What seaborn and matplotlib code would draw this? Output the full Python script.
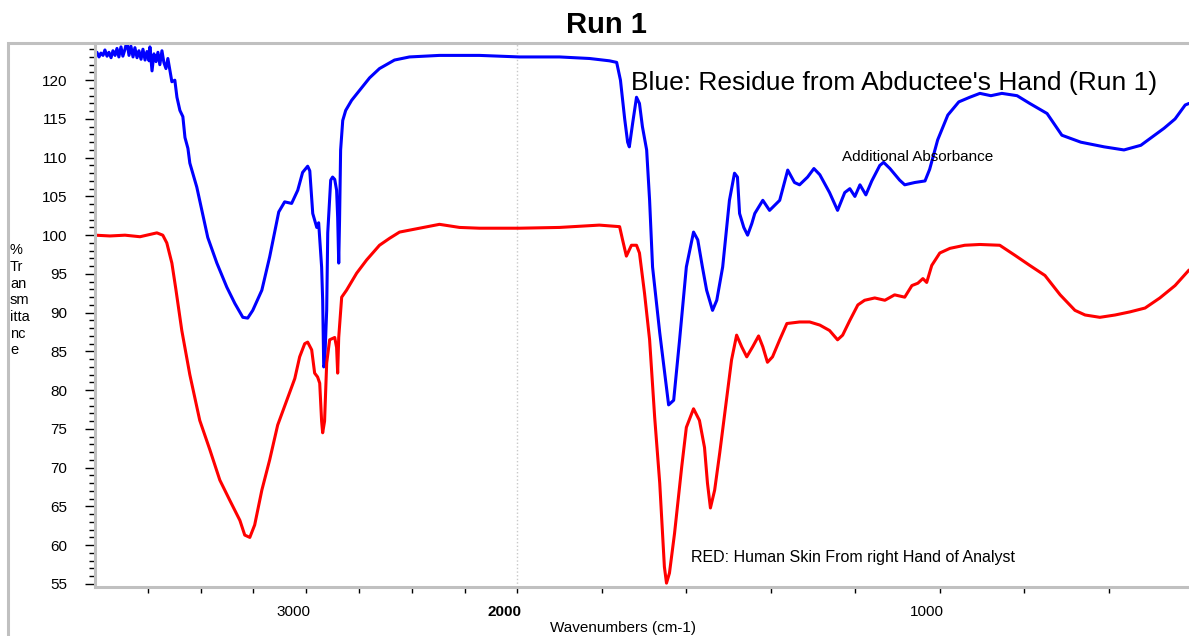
import numpy as np
import pandas as pd
import matplotlib
matplotlib.use("Agg")
import matplotlib.pyplot as plt
import seaborn as sns
from matplotlib.ticker import FixedLocator, FixedFormatter, MultipleLocator
from matplotlib.patches import Rectangle
from matplotlib.transforms import ScaledTranslation

# Blue run: residue from abductee's hand (wavenumber cm-1, %T)
blue_wavenumber = [4000, 3991, 3981, 3972, 3962, 3953, 3943, 3934, 3924, 3915, 3905, 3896,
                   3887, 3877, 3868, 3858, 3849, 3839, 3830, 3820, 3811, 3801, 3792, 3782,
                   3773, 3763, 3754, 3744, 3740, 3730, 3721, 3711, 3702, 3693, 3683, 3674,
                   3664, 3655, 3645, 3636,
                   3622, 3612, 3598, 3584, 3574, 3560, 3551, 3518, 3494, 3466, 3423,
                   3376, 3338, 3300, 3277, 3253, 3210, 3173, 3130, 3102, 3069, 3040, 3017,
                   2993, 2983, 2969, 2950, 2941, 2927, 2922, 2917, 2913, 2903, 2898, 2884,
                   2875, 2865, 2856, 2851, 2846, 2842, 2837, 2827, 2813, 2785, 2747, 2700,
                   2653, 2582, 2511, 2369, 2180, 1995, 1900, 1829, 1782, 1765, 1756, 1746,
                   1739, 1735, 1727, 1718, 1711, 1704, 1694, 1687, 1680, 1663, 1647, 1642,
                   1630, 1616, 1600, 1583, 1573, 1562, 1552, 1538, 1528, 1514, 1502, 1498,
                   1486, 1479, 1474, 1464, 1455, 1445, 1438, 1419, 1403, 1379, 1360, 1344,
                   1332, 1313, 1298, 1284, 1261, 1242, 1225, 1213, 1201, 1189, 1175, 1161,
                   1142, 1133, 1118, 1095, 1083, 1059, 1035, 1024, 1005, 981, 955, 929,
                   905, 879, 853, 817, 787, 746, 711, 666, 611, 564, 524, 469, 443, 419, 410]
blue_transmittance = [123.3, 123.6, 123.0, 123.5, 123.2, 123.9, 123.1, 123.6, 122.9, 123.8, 123.2, 124.1,
                      123.0, 124.3, 123.1, 124.0, 125.0, 123.2, 124.4, 123.0, 124.2, 122.9, 123.8, 122.7,
                      124.0, 122.6, 123.7, 122.5, 124.3, 121.2, 123.4, 122.4, 123.6, 122.0, 123.8, 122.3,
                      121.5, 122.8, 121.2, 119.8,
                      120.0, 117.8, 116.1, 115.3, 112.6, 111.2, 109.3, 106.2, 103.2, 99.7, 96.4,
                      93.3, 91.2, 89.4, 89.3, 90.3, 92.9, 97.2, 103.0, 104.3, 104.1, 105.8, 108.1,
                      108.9, 108.3, 102.8, 101.0, 101.6, 95.9, 91.6, 83.0, 83.2, 90.3, 100.3, 107.1,
                      107.5, 107.2, 105.8, 102.3, 96.4, 102.0, 111.0, 114.8, 116.1, 117.4, 118.7, 120.3,
                      121.5, 122.6, 123.0, 123.2, 123.2, 123.0, 123.0, 122.8, 122.5, 122.3, 120.0, 115.0,
                      112.0, 111.4, 114.5, 117.8, 117.0, 114.0, 111.0, 104.5, 95.9, 87.4, 80.4, 78.1,
                      78.7, 86.5, 95.9, 100.4, 99.4, 95.9, 92.9, 90.3, 91.6, 95.9, 102.3, 104.5,
                      108.0, 107.5, 102.8, 101.0, 100.0, 101.5, 102.8, 104.5, 103.2, 104.5, 108.4, 106.8,
                      106.5, 107.5, 108.6, 107.8, 105.5, 103.2, 105.5, 106.0, 105.0, 106.5, 105.2, 107.0,
                      109.0, 109.4, 108.6, 107.1, 106.5, 106.8, 107.0, 108.5, 112.3, 115.5, 117.2, 117.8,
                      118.3, 118.0, 118.3, 118.0, 117.0, 115.7, 112.9, 112.0, 111.4, 111.0, 111.6, 113.8,
                      115.0, 116.8, 117.0]

# Red run: human skin from right hand of analyst
red_wavenumber = [4000, 3929, 3858, 3787, 3740, 3707, 3679, 3660, 3636, 3617, 3598, 3589,
                  3551, 3504, 3456, 3409, 3362, 3314, 3291, 3267, 3244, 3210, 3173, 3135,
                  3092, 3054, 3031, 3007, 2993, 2974, 2960, 2946, 2936, 2927, 2922, 2913,
                  2903, 2889, 2865, 2856, 2851, 2846, 2832, 2809, 2761, 2714, 2653, 2605,
                  2558, 2463, 2369, 2274, 2180, 2085, 1995, 1900, 1806, 1758, 1751, 1742,
                  1730, 1718, 1711, 1699, 1687, 1675, 1663, 1652, 1647, 1640, 1628, 1611,
                  1600, 1583, 1569, 1557, 1550, 1543, 1533, 1521, 1505, 1493, 1481, 1469,
                  1457, 1443, 1429, 1419, 1408, 1396, 1379, 1362, 1332, 1308, 1284, 1261,
                  1242, 1230, 1213, 1194, 1178, 1154, 1130, 1107, 1083, 1066, 1052, 1040,
                  1031, 1019, 1000, 976, 941, 905, 858, 822, 787, 751, 715, 680,
                  656, 621, 585, 550, 514, 479, 443, 410]
red_transmittance = [100.0, 99.9, 100.0, 99.8, 100.1, 100.3, 100.0, 99.0, 96.4, 93.0, 89.4, 87.7,
                     82.0, 76.1, 72.3, 68.4, 65.8, 63.2, 61.3, 61.0, 62.6, 67.1, 71.0, 75.5,
                     78.7, 81.5, 84.3, 86.0, 86.2, 85.2, 82.2, 81.7, 80.9, 76.0, 74.5, 76.0,
                     83.5, 86.5, 86.8, 85.5, 82.2, 86.8, 92.0, 92.9, 95.1, 96.8, 98.7, 99.6,
                     100.4, 100.9, 101.4, 101.0, 100.9, 100.9, 100.9, 101.0, 101.3, 101.1, 99.4, 97.3,
                     98.7, 98.7, 97.7, 92.5, 86.5, 76.5, 68.0, 57.2, 55.1, 56.4, 61.5, 70.1,
                     75.2, 77.6, 76.1, 72.6, 68.0, 64.8, 67.1, 71.9, 78.7, 83.9, 87.1, 85.6,
                     84.3, 85.6, 87.0, 85.6, 83.6, 84.3, 86.5, 88.6, 88.8, 88.8, 88.4, 87.7,
                     86.5, 87.1, 89.0, 91.0, 91.6, 91.9, 91.6, 92.3, 92.0, 93.5, 93.8, 94.4,
                     93.9, 96.1, 97.7, 98.3, 98.7, 98.8, 98.7, 97.4, 96.1, 94.8, 92.3, 90.3,
                     89.7, 89.4, 89.7, 90.1, 90.6, 91.9, 93.5, 95.5]

tick_positions = [3750, 3500, 3250, 3000, 2750, 2500, 2250, 2000,
                  1800, 1600, 1400, 1200, 1000, 800, 600]
tick_labels = ["", "", "", "3000", "", "", "", "2000",
               "", "", "", "", "1000", "", ""]


# x axis is expanded 2x below 2000 cm-1, like the spectrometer software
def fwd(w):
    w = np.asarray(w, dtype=float)
    return np.where(w >= 2000, w, 2 * w - 2000)


def inv(u):
    u = np.asarray(u, dtype=float)
    return np.where(u >= 2000, u, (u + 2000) / 2)


sns.set_style("ticks")
plt.rcParams['font.family'] = ['Liberation Sans', 'DejaVu Sans']
plt.rcParams['text.color'] = "black"
plt.rcParams['xtick.color'] = "black"
plt.rcParams['ytick.color'] = "black"
plt.rcParams['axes.labelcolor'] = "black"

fig = plt.figure(figsize=(11.89, 6.36), dpi=100)
ax = fig.add_axes([95 / 1189, 49 / 636, 1 - 95 / 1189, 544 / 636])

blue_df = pd.DataFrame({"wn": blue_wavenumber, "T": blue_transmittance})
red_df = pd.DataFrame({"wn": red_wavenumber, "T": red_transmittance})

sns.lineplot(data=blue_df, x="wn", y="T", ax=ax, color="#0000ff", linewidth=2.2,
             sort=False, estimator=None)
sns.lineplot(data=red_df, x="wn", y="T", ax=ax, color="#ff0000", linewidth=2.2,
             sort=False, estimator=None)

ax.set_xscale("function", functions=(fwd, inv))
ax.set_xlim(4000, 410)
ax.set_ylim(54.6, 124.8)

# dotted line at the scale change
ax.axvline(2000, color="#c8c8c8", linestyle=":", linewidth=1, zorder=0)

ax.xaxis.set_major_locator(FixedLocator(tick_positions))
ax.xaxis.set_major_formatter(FixedFormatter(tick_labels))
ax.xaxis.set_minor_locator(FixedLocator([]))
ax.yaxis.set_major_locator(MultipleLocator(5))
ax.yaxis.set_minor_locator(MultipleLocator(1))

ax.tick_params(axis="y", which="major", direction="out", length=7, width=1, pad=13,
               labelsize=11, color="black", labelcolor="black")
ax.tick_params(axis="y", which="minor", direction="out", length=4, width=1, color="black")
ax.tick_params(axis="x", which="major", direction="out", length=4, width=1, pad=9,
               labelsize=11, color="black", labelcolor="black")

# labels sit a bit left of their ticks in the original
offset = ScaledTranslation(-13 / 100, 0, fig.dpi_scale_trans)
for lab in ax.get_xticklabels():
    lab.set_transform(lab.get_transform() + offset)
    if lab.get_text() == "2000":
        lab.set_fontweight("bold")

for side in ["top", "right"]:
    ax.spines[side].set_visible(False)
for side in ["left", "bottom"]:
    ax.spines[side].set_color("#c0c0c0")
    ax.spines[side].set_linewidth(2.2)

ax.set_xlabel("")
ax.set_ylabel("")

# outer grey frame
fig.add_artist(Rectangle((8 / 1189, -0.05), 1.2, 1 - 43 / 636 + 0.05,
                         transform=fig.transFigure, fill=False,
                         edgecolor="#c0c0c0", linewidth=2.2))

fig.text(606 / 1189, 1 - 25 / 636, "Run 1", fontsize=21, fontweight="bold",
         ha="center", va="center")
fig.text(10 / 1189, 1 - 243 / 636, "%\nTr\nan\nsm\nitta\nnc\ne", fontsize=10.5,
         ha="left", va="top", linespacing=1.25)
fig.text(623 / 1189, 1 - 628 / 636, "Wavenumbers (cm-1)", fontsize=11,
         ha="center", va="center")

ax.text(1730, 119.6, "Blue: Residue from Abductee's Hand (Run 1)", fontsize=19,
        ha="left", va="center")
ax.text(1232, 110.1, "Additional Absorbance", fontsize=11, ha="left", va="center")
ax.text(1588, 58.45, "RED: Human Skin From right Hand of Analyst", fontsize=11.5,
        ha="left", va="center")

plt.savefig("out.png", dpi=100)
